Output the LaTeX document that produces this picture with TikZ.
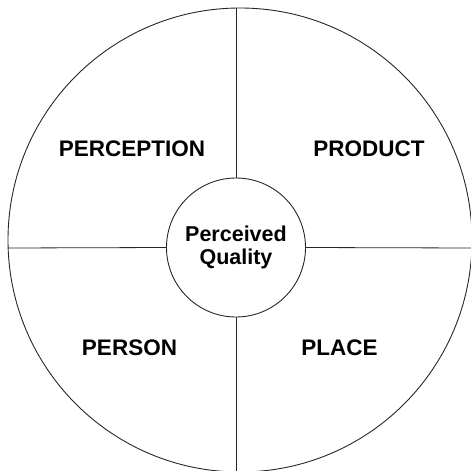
\documentclass[tikz,border=0pt]{standalone}
\usepackage{fontspec}
\setmainfont{Liberation Sans}
\begin{document}
\begin{tikzpicture}[x=1pt,y=-1pt,
  ring/.style={draw=black!85,line width=0.9pt},
  divider/.style={draw=black!85,line width=0.8pt},
  label/.style={font=\bfseries\fontsize{22.5}{26}\selectfont,inner sep=0pt},
  hub/.style={circle,draw=black!85,line width=0.9pt,minimum size=139pt,inner sep=0pt,align=center,font=\bfseries\fontsize{21.5}{24}\selectfont}]
\useasboundingbox (0,0) rectangle (471,471);
\draw[ring] (240,240) circle[radius=232];
\node[hub] (q) at (236,247.5) {Perceived\\[-1pt]Quality};
\coordinate (top) at (236,8);
\coordinate (bot) at (236,473);
\coordinate (lft) at (8.1,248);
\coordinate (rgt) at (473,248);
\draw[divider] (q.north) -- (top);
\draw[divider] (q.south) -- (bot);
\draw[divider] (q.west) -- (lft);
\draw[divider] (q.east) -- (rgt);
\node[label] (perception) at (132,149) {PERCEPTION};
\node[label] (product) at (369,149) {PRODUCT};
\node[label] (person) at (129.5,348) {PERSON};
\node[label] (place) at (339.5,348) {PLACE};
\end{tikzpicture}
\end{document}
